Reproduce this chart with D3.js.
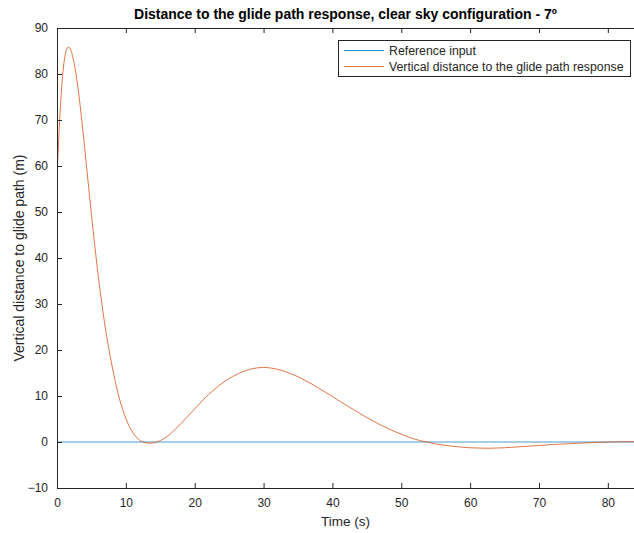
<!DOCTYPE html>
<html>
<head>
<meta charset="utf-8">
<script src="https://cdn.jsdelivr.net/npm/d3@7"></script>
<style>
  html, body { margin: 0; padding: 0; background: #fff; }
  svg { display: block; font-family: "Liberation Sans", Arial, Helvetica, sans-serif; }
</style>
</head>
<body>
<svg id="chart" width="634" height="533"></svg>
<script>
// Time samples (s) of the simulated response
const time = [
  0, 0.25, 0.5, 0.75, 1, 1.25, 1.5, 1.75, 2, 2.5, 3, 3.5, 4, 4.5, 5, 5.5, 6, 6.5, 7, 7.5,
  8, 8.5, 9, 9.5, 10, 10.5, 11, 11.5, 12, 12.5, 13, 13.5, 14, 14.5, 15, 16, 17, 18, 19, 20,
  21, 22, 23, 24, 25, 26, 27, 28, 29, 30, 31, 32, 33, 34, 35, 36, 37, 38, 39, 40,
  41, 42, 43, 44, 45, 46, 47, 48, 49, 50, 51, 52, 53, 54, 55, 56, 57, 58, 59, 60,
  61, 62, 63, 64, 65, 66, 67, 68, 69, 70, 72, 74, 76, 78, 80, 82, 84
];

// Vertical distance to the glide path (m)
const response = [
  57.5, 66, 73, 78.5, 82.3, 84.6, 85.7, 85.8, 85.2, 82.3, 77.5, 71.3, 64.2, 56.8, 49.5, 42.5, 36.0, 30.2, 25.0, 20.5,
  16.5, 12.9, 9.8, 7.2, 5.1, 3.4, 2.1, 1.1, 0.4, 0.0, -0.2, -0.25, -0.2, 0.0, 0.3, 1.2, 2.5, 4.0, 5.6, 7.2,
  8.8, 10.3, 11.6, 12.8, 13.8, 14.6, 15.3, 15.8, 16.1, 16.2, 16.1, 15.8, 15.4, 14.8, 14.2, 13.4, 12.6, 11.7, 10.8, 9.9,
  8.9, 8.0, 7.1, 6.2, 5.3, 4.5, 3.7, 3.0, 2.3, 1.7, 1.1, 0.6, 0.2, -0.1, -0.4, -0.65, -0.85, -1.0, -1.15, -1.25,
  -1.3, -1.35, -1.35, -1.3, -1.25, -1.15, -1.05, -0.95, -0.85, -0.75, -0.55, -0.4, -0.25, -0.1, 0.0, 0.05, 0.05
];

// Reference input: zero distance over the whole run
const refTime = [0, 84];
const refValue = [0, 0];

const xTicks = [0, 10, 20, 30, 40, 50, 60, 70, 80];
const yTicks = [-10, 0, 10, 20, 30, 40, 50, 60, 70, 80, 90];

const seriesNames = ["Reference input", "Vertical distance to the glide path response"];
const seriesColors = ["#0072BD", "#D95319"];

const svg = d3.select("#chart");
const plotLeft = 57, plotTop = 28, plotBottom = 488, plotRight = 634;
const axisColor = "#262626";

const x = d3.scaleLinear().domain([0, 83.8]).range([plotLeft, plotRight]);
const y = d3.scaleLinear().domain([-10, 90]).range([plotBottom, plotTop]);

svg.append("clipPath").attr("id", "plotclip")
  .append("rect").attr("x", plotLeft).attr("y", plotTop)
  .attr("width", plotRight - plotLeft).attr("height", plotBottom - plotTop);

const plot = svg.append("g").attr("clip-path", "url(#plotclip)");

const line = d3.line().x(d => x(d[0])).y(d => y(d[1]));

// Reference input
plot.append("path")
  .datum(refTime.map((t, i) => [t, refValue[i]]))
  .attr("fill", "none")
  .attr("stroke", seriesColors[0])
  .attr("stroke-opacity", 0.7)
  .attr("stroke-width", 1.2)
  .attr("d", line);

// Response
plot.append("path")
  .datum(time.map((t, i) => [t, response[i]]))
  .attr("fill", "none")
  .attr("stroke", seriesColors[1])
  .attr("stroke-opacity", 0.8)
  .attr("stroke-width", 1)
  .attr("d", line.curve(d3.curveMonotoneX));

// Axes
const tickLen = 5;
const xAxis = d3.axisBottom(x).tickValues(xTicks).tickSizeInner(-tickLen).tickSizeOuter(0).tickPadding(10);
const xAxisTop = d3.axisTop(x).tickValues(xTicks).tickSizeInner(-tickLen).tickSizeOuter(0).tickFormat("");
const yAxis = d3.axisLeft(y).tickValues(yTicks).tickSizeInner(-tickLen).tickSizeOuter(0).tickPadding(9);

function styleAxis(g) {
  g.select(".domain").attr("stroke", axisColor).attr("stroke-width", 1);
  g.selectAll(".tick line").attr("stroke", axisColor).attr("stroke-width", 1);
  g.selectAll(".tick text").attr("fill", axisColor).style("font-size", "12px")
    .style("font-family", "'Liberation Sans', Arial, sans-serif");
}

svg.append("g").attr("transform", `translate(0,${plotBottom})`).call(xAxis).call(styleAxis);
svg.append("g").attr("transform", `translate(0,${plotTop})`).call(xAxisTop).call(styleAxis);
svg.append("g").attr("transform", `translate(${plotLeft},0)`).call(yAxis).call(styleAxis);

// Title and axis labels
svg.append("text")
  .attr("x", (plotLeft + plotRight) / 2).attr("y", 19)
  .attr("text-anchor", "middle")
  .style("font-size", "14px").style("font-weight", "bold").attr("fill", "#000")
  .text("Distance to the glide path response, clear sky configuration - 7º");

svg.append("text")
  .attr("x", (plotLeft + plotRight) / 2).attr("y", 526)
  .attr("text-anchor", "middle")
  .style("font-size", "13.5px").attr("fill", axisColor)
  .text("Time (s)");

svg.append("text")
  .attr("transform", `translate(24,${(plotTop + plotBottom) / 2}) rotate(-90)`)
  .attr("text-anchor", "middle")
  .style("font-size", "14px").attr("fill", axisColor)
  .text("Vertical distance to glide path (m)");

// Legend
const legend = svg.append("g").attr("transform", "translate(338,40)");
legend.append("rect")
  .attr("x", 0.5).attr("y", 0.5).attr("width", 292).attr("height", 36)
  .attr("fill", "#fff").attr("stroke", axisColor).attr("stroke-width", 1);
seriesNames.forEach((name, i) => {
  const ly = 10.5 + i * 16;
  legend.append("line")
    .attr("x1", 6).attr("x2", 46).attr("y1", ly).attr("y2", ly)
    .attr("stroke", seriesColors[i]).attr("stroke-opacity", 0.8).attr("stroke-width", 1);
  legend.append("text")
    .attr("x", 51).attr("y", ly + 4.5)
    .style("font-size", "12.3px").attr("fill", axisColor)
    .text(name);
});
</script>
</body>
</html>
